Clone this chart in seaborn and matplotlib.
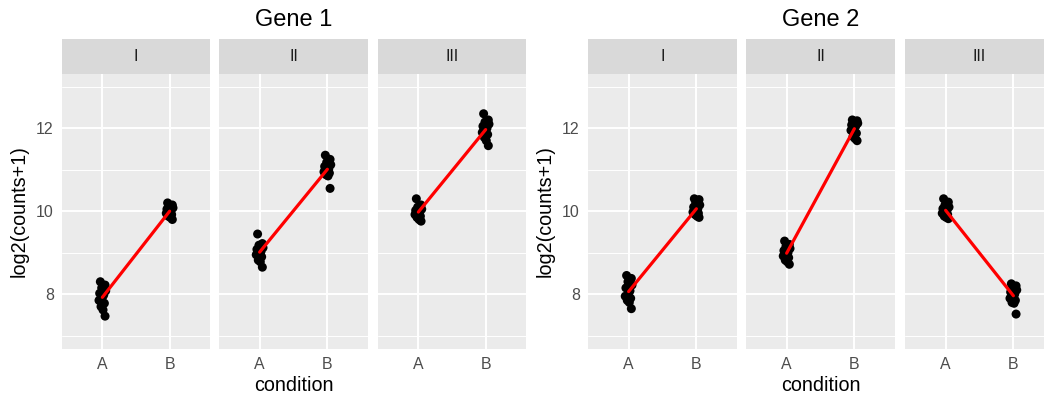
import numpy as np
import pandas as pd
import matplotlib
matplotlib.use("Agg")
import matplotlib.pyplot as plt
import seaborn as sns

# values
genes = ["Gene 1", "Gene 2"]
groups = ["I", "II", "III"]
conditions = ["A", "B"]

g1_I_A = [8.30, 8.22, 8.15, 8.08, 8.02, 7.98, 7.92, 7.85, 7.78, 7.70, 7.62, 7.47]
g1_I_B = [10.20, 10.15, 10.12, 10.08, 10.05, 10.02, 9.98, 9.95, 9.92, 9.88, 9.85, 9.80]
g1_II_A = [9.45, 9.22, 9.18, 9.12, 9.08, 9.03, 8.98, 8.95, 8.90, 8.82, 8.78, 8.65]
g1_II_B = [11.35, 11.25, 11.18, 11.12, 11.08, 11.02, 10.98, 10.95, 10.92, 10.88, 10.85, 10.55]
g1_III_A = [10.30, 10.15, 10.10, 10.05, 10.02, 9.98, 9.95, 9.92, 9.88, 9.85, 9.80, 9.76]
g1_III_B = [12.35, 12.20, 12.15, 12.10, 12.05, 12.00, 11.95, 11.90, 11.85, 11.78, 11.70, 11.58]

g2_I_A = [8.45, 8.38, 8.30, 8.22, 8.15, 8.08, 8.02, 7.95, 7.90, 7.85, 7.80, 7.65]
g2_I_B = [10.30, 10.28, 10.22, 10.15, 10.10, 10.05, 10.02, 9.98, 9.95, 9.92, 9.88, 9.85]
g2_II_A = [9.28, 9.20, 9.15, 9.10, 9.05, 9.00, 8.95, 8.92, 8.88, 8.82, 8.78, 8.72]
g2_II_B = [12.20, 12.18, 12.15, 12.12, 12.08, 12.05, 12.00, 11.95, 11.88, 11.80, 11.75, 11.70]
g2_III_A = [10.30, 10.22, 10.15, 10.10, 10.06, 10.02, 9.98, 9.95, 9.92, 9.88, 9.85, 9.82]
g2_III_B = [8.25, 8.20, 8.15, 8.10, 8.05, 8.00, 7.95, 7.90, 7.85, 7.80, 7.78, 7.52]

# horizontal jitter of the points (category units)
jitter = [-0.03, 0.04, -0.01, 0.05, -0.04, 0.02, 0.0, -0.05, 0.03, -0.02, 0.01, 0.04]

values = {
    ("Gene 1", "I"): (g1_I_A, g1_I_B),
    ("Gene 1", "II"): (g1_II_A, g1_II_B),
    ("Gene 1", "III"): (g1_III_A, g1_III_B),
    ("Gene 2", "I"): (g2_I_A, g2_I_B),
    ("Gene 2", "II"): (g2_II_A, g2_II_B),
    ("Gene 2", "III"): (g2_III_A, g2_III_B),
}

rows = []
for (gene, grp), (a_vals, b_vals) in values.items():
    for ci, vals in enumerate((a_vals, b_vals)):
        for j, v in zip(jitter, vals):
            rows.append(dict(gene=gene, group=grp, cond=ci, xj=ci + j, y=v))
df = pd.DataFrame(rows)

sns.set_theme(style="darkgrid")
plt.rcParams["font.family"] = ["Liberation Sans", "DejaVu Sans"]

W, H = 1044, 396
fig = plt.figure(figsize=(W / 100, H / 100), dpi=100)


def box(x0, x1, y0, y1):
    return [x0 / W, 1 - y1 / H, (x1 - x0) / W, (y1 - y0) / H]


panel_x = {
    "Gene 1": [(62, 210), (219, 368), (378, 526)],
    "Gene 2": [(588, 737), (746, 895), (905, 1054)],
}
strip_top, panel_top, panel_bot = 39, 73.5, 348.5

for gene in genes:
    xs = panel_x[gene]
    for k, grp in enumerate(groups):
        x0, x1 = xs[k]
        ax = fig.add_axes(box(x0, x1, panel_top, panel_bot))
        ax.set_facecolor("#EBEBEB")
        sub = df[(df.gene == gene) & (df.group == grp)]
        sns.scatterplot(data=sub, x="xj", y="y", color="black", s=42,
                        edgecolor="none", ax=ax, zorder=3)
        sns.lineplot(data=sub, x="cond", y="y", estimator="mean", errorbar=None,
                     color="red", linewidth=2.3, ax=ax, zorder=4)
        ax.set_xlim(-0.6, 1.6)
        ax.set_ylim(6.69, 13.32)
        ax.set_xticks([0, 1])
        ax.set_xticklabels(conditions)
        ax.set_yticks([8, 10, 12])
        ax.set_yticks([7, 9, 11, 13], minor=True)
        ax.grid(True, which="major", color="white", linewidth=1.4)
        ax.grid(True, which="minor", axis="y", color="white", linewidth=0.7)
        ax.set_axisbelow(True)
        for sp in ax.spines.values():
            sp.set_visible(False)
        ax.tick_params(axis="x", which="major", length=3.5, width=1.0, color="#333333",
                       labelsize=11.4, labelcolor="#4D4D4D", pad=2.5)
        ax.tick_params(axis="y", which="both", length=0)
        if k == 0:
            ax.tick_params(axis="y", which="major", length=3.5, width=1.0, color="#333333",
                           labelsize=11.4, labelcolor="#4D4D4D", pad=2.5)
            ax.set_ylabel("log2(counts+1)", fontsize=14.2, color="black", labelpad=5)
        else:
            ax.set_yticklabels([])
            ax.set_ylabel("")
        if k == 1:
            ax.set_xlabel("condition", fontsize=14.2, color="black", labelpad=3)
        else:
            ax.set_xlabel("")

        sax = fig.add_axes(box(x0, x1, strip_top, panel_top))
        sax.set_facecolor("#D9D9D9")
        sax.set_xticks([])
        sax.set_yticks([])
        sax.grid(False)
        for sp in sax.spines.values():
            sp.set_visible(False)
        sax.text(0.5, 0.5, grp, ha="center", va="center", fontsize=11.4,
                 color="#1A1A1A", transform=sax.transAxes)

    cx = (xs[0][0] + xs[2][1]) / 2
    fig.text(cx / W, 1 - 20 / H, gene, ha="center", va="center", fontsize=17, color="black")

fig.patch.set_facecolor("white")
fig.savefig("out.png", dpi=100)
